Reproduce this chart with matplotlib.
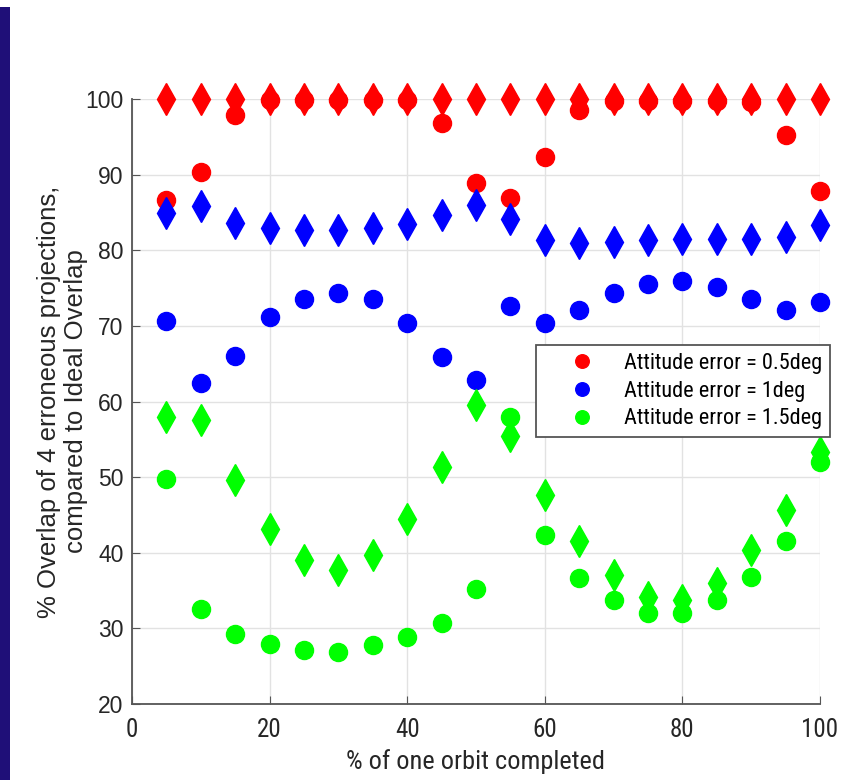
import matplotlib
matplotlib.use('Agg')
import matplotlib.pyplot as plt
from matplotlib.patches import Rectangle

# % of one orbit completed
orbit = [5, 10, 15, 20, 25, 30, 35, 40, 45, 50,
         55, 60, 65, 70, 75, 80, 85, 90, 95, 100]

# circles
err05_c = [86.6, 90.4, 97.9, 99.9, 99.9, 99.9, 99.9, 99.9, 96.8, 88.9,
           86.9, 92.4, 98.6, 99.8, 99.8, 99.8, 99.8, 99.6, 95.2, 87.9]
err10_c = [70.7, 62.4, 66.0, 71.2, 73.5, 74.3, 73.5, 70.4, 65.9, 62.8,
           72.6, 70.4, 72.1, 74.3, 75.6, 76.0, 75.2, 73.6, 72.1, 73.2]
err15_c = [49.8, 32.6, 29.3, 27.9, 27.1, 26.9, 27.8, 28.9, 30.7, 35.2,
           57.9, 42.4, 36.6, 33.7, 32.0, 32.0, 33.8, 36.8, 41.5, 52.0]

# diamonds
err05_d = [100.0] * 20
err10_d = [84.9, 85.8, 83.6, 82.9, 82.7, 82.7, 82.9, 83.5, 84.7, 86.0,
           84.2, 81.4, 80.9, 81.1, 81.4, 81.5, 81.5, 81.5, 81.8, 83.3]
err15_d = [57.9, 57.5, 49.6, 43.2, 39.0, 37.7, 39.7, 44.5, 51.3, 59.5,
           55.5, 47.6, 41.5, 37.0, 34.2, 33.7, 36.0, 40.4, 45.6, 53.3]

labels = ['Attitude error = 0.5deg', 'Attitude error = 1deg', 'Attitude error = 1.5deg']
colors = ['#ff0000', '#0000ff', '#00ff00']

NARROW = 'Roboto Condensed'
REG = 'Liberation Sans'

fig = plt.figure(figsize=(8.56, 7.8), dpi=100)
fig.patches.append(Rectangle((0.0, 0.0), 0.012, 0.991, transform=fig.transFigure,
                             facecolor='#1f0f78', edgecolor='none'))

ax = fig.add_axes([0.1542, 0.0974, 0.8037, 0.7756])

for ys, c, lab in zip([err05_c, err10_c, err15_c], colors, labels):
    ax.plot(orbit, ys, 'o', color=c, markersize=13, label=lab, zorder=3, clip_on=False)
for ys, c in zip([err05_d, err10_d, err15_d], colors):
    ax.plot(orbit, ys, 'd', color=c, markersize=16, zorder=3, clip_on=False)

ax.set_xlim(0, 100)
ax.set_ylim(20, 100)
ax.set_xticks(range(0, 101, 20))
ax.set_yticks(range(20, 101, 10))
ax.grid(True, color='#e2e2e2', linewidth=1)
ax.set_axisbelow(True)
for s in ['top', 'right']:
    ax.spines[s].set_visible(False)
for s in ['left', 'bottom']:
    ax.spines[s].set_color('#555555')
    ax.spines[s].set_linewidth(1.3)
ax.tick_params(direction='in', length=6, color='#555555')
ax.tick_params(axis='x', pad=10)
ax.tick_params(axis='y', pad=6)
for t in ax.get_xticklabels():
    t.set_fontfamily(NARROW)
    t.set_fontsize(18)
    t.set_color('#262626')
for t in ax.get_yticklabels():
    t.set_fontfamily(REG)
    t.set_fontsize(16.5)
    t.set_color('#262626')

ax.set_xlabel('% of one orbit completed', fontfamily=NARROW,
              fontsize=19, color='#262626', labelpad=5)
ax.set_ylabel('% Overlap of 4 erroneous projections,\ncompared to Ideal Overlap',
              fontfamily=REG, fontsize=18.5, color='#262626',
              labelpad=-2, linespacing=1.15)

leg = ax.legend(loc='upper left', bbox_to_anchor=(0.587, 0.593), fancybox=False,
                edgecolor='#555555', framealpha=1, borderaxespad=0,
                prop={'family': NARROW, 'size': 16},
                markerscale=0.75, handletextpad=0.1, borderpad=0.35,
                labelspacing=0.3, handlelength=3.5)
leg.get_frame().set_linewidth(1.3)

fig.savefig('out.png', dpi=100)
